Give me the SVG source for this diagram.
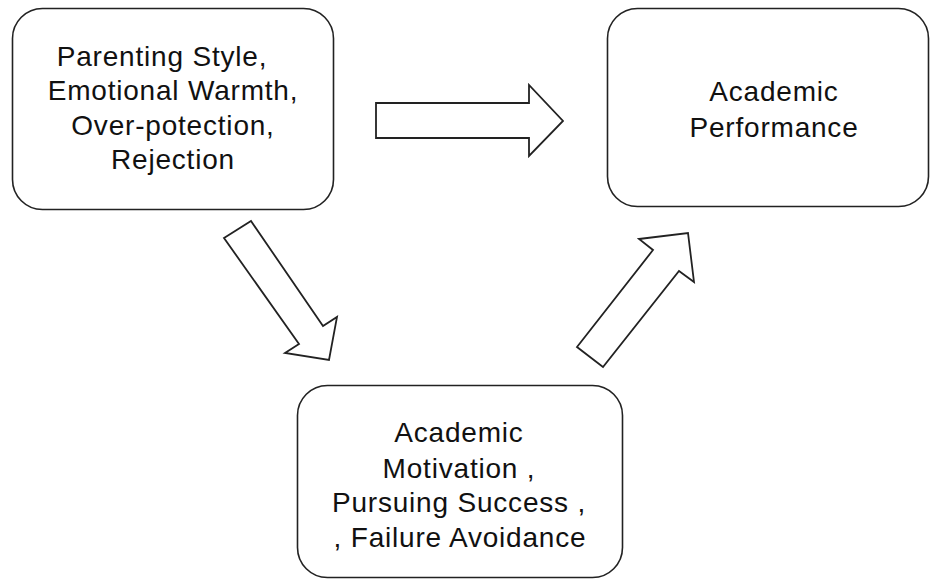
<svg xmlns="http://www.w3.org/2000/svg" width="931" height="580" viewBox="0 0 931 580">
<style>
.box{fill:#fff;stroke:#222;stroke-width:1.6}
.arr{fill:#fff;stroke:#222;stroke-width:1.8;stroke-linejoin:miter}
text{font-family:"Liberation Sans",Arial,sans-serif;font-size:28px;letter-spacing:0.8px;fill:#111;text-anchor:middle}
</style>
<rect width="931" height="580" fill="#fff"/>
<g id="parenting">
<rect class="box" x="12.5" y="8.5" width="321" height="201" rx="30"/>
<text x="162" y="66">Parenting Style,</text>
<text x="173" y="100">Emotional Warmth,</text>
<text x="173" y="135">Over-potection,</text>
<text x="173" y="169">Rejection</text>
</g>
<g id="performance">
<rect class="box" x="607.5" y="8.5" width="321" height="198" rx="30"/>
<text x="774" y="101">Academic</text>
<text x="774" y="137">Performance</text>
</g>
<g id="motivation">
<rect class="box" x="297.5" y="385.5" width="325" height="192" rx="30"/>
<text x="459" y="442">Academic</text>
<text x="459" y="478">Motivation ,</text>
<text x="459" y="512">Pursuing Success ,</text>
<text x="460" y="547">, Failure Avoidance</text>
</g>
<g id="connectors">
<polygon class="arr" points="376,103 529,103 529,85 563,121 529,156 529,138 376,138"/>
<polygon class="arr" points="224,238 251,221 323,326 337,317 329,360 285,353 299,344"/>
<polygon class="arr" points="577,347 653,250 639,239 688,233 694,282 679,271 603,367"/>
</g>
</svg>
